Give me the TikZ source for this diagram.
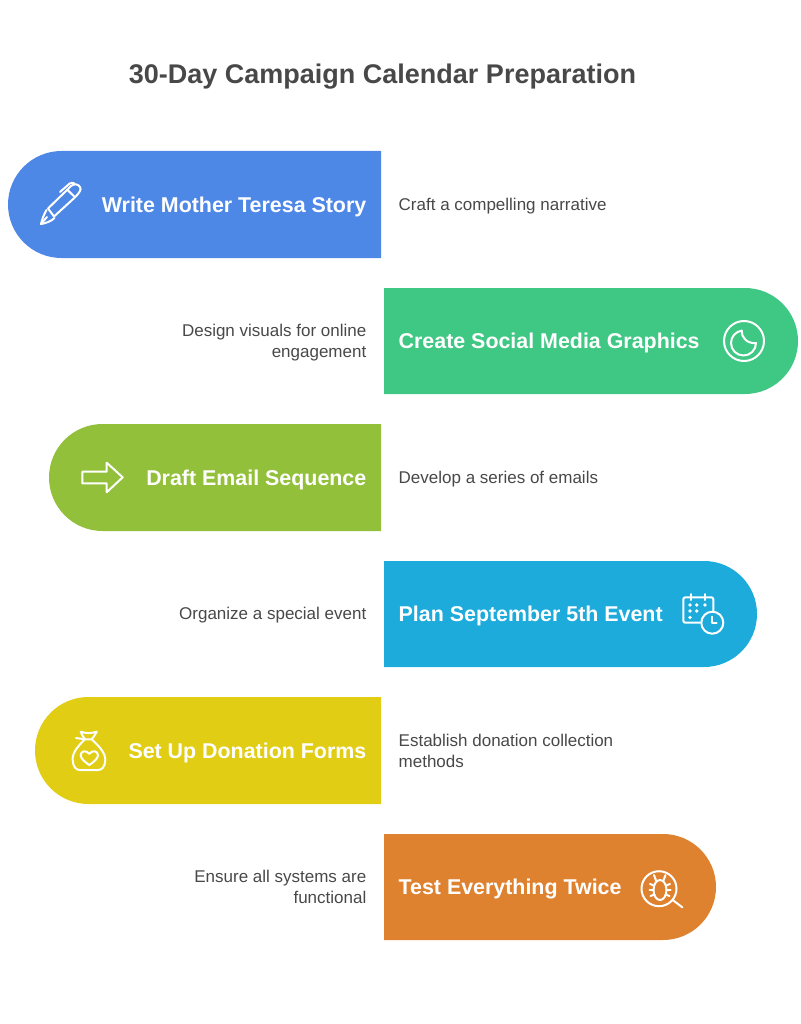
\documentclass[tikz,border=0pt]{standalone}
\usepackage{fontspec}
\setmainfont{Liberation Sans}
\definecolor{barblue}{HTML}{4E88E7}
\definecolor{bargreen}{HTML}{3FC784}
\definecolor{barolive}{HTML}{93C03B}
\definecolor{barcyan}{HTML}{1DABDC}
\definecolor{baryellow}{HTML}{E0CD14}
\definecolor{barorange}{HTML}{DF8230}
\definecolor{inkgrey}{HTML}{484848}
\tikzset{
  titletext/.style={text=inkgrey,inner sep=0pt,font=\fontsize{27}{32}\selectfont\bfseries},
  headtext/.style={text=white,inner sep=0pt,font=\fontsize{21.4}{26}\selectfont\bfseries},
  desctext/.style={text=inkgrey,inner sep=0pt,font=\fontsize{17}{21}\selectfont},
  iconline/.style={draw=white,line width=2pt,line join=round,line cap=round},
  icondot/.style={fill=white,draw=none},
}
\begin{document}
\begin{tikzpicture}[x=1pt,y=-1pt]
  \useasboundingbox (0,0) rectangle (800,1024);
  \node[titletext] (title) at (382.5,77) {30-Day Campaign Calendar Preparation};

  % bars
  \fill[barblue] (381,151) [rounded corners=53.5pt] -- (8,151) -- (8,258) [sharp corners] -- (381,258) -- cycle;
  \fill[bargreen] (384,288) [rounded corners=53pt] -- (798,288) -- (798,394) [sharp corners] -- (384,394) -- cycle;
  \fill[barolive] (381,424) [rounded corners=53.5pt] -- (49,424) -- (49,531) [sharp corners] -- (381,531) -- cycle;
  \fill[barcyan] (384,561) [rounded corners=53pt] -- (757,561) -- (757,667) [sharp corners] -- (384,667) -- cycle;
  \fill[baryellow] (381,697) [rounded corners=53.5pt] -- (35,697) -- (35,804) [sharp corners] -- (381,804) -- cycle;
  \fill[barorange] (384,834) [rounded corners=53pt] -- (716,834) -- (716,940) [sharp corners] -- (384,940) -- cycle;

  % headings
  \node[headtext,anchor=east] (storyhead) at (366.5,207) {Write Mother Teresa Story};
  \node[headtext,anchor=west] (graphicshead) at (398.5,343) {Create Social Media Graphics};
  \node[headtext,anchor=east] (emailhead) at (366.5,480) {Draft Email Sequence};
  \node[headtext,anchor=west] (eventhead) at (398.5,616) {Plan September 5th Event};
  \node[headtext,anchor=east] (formshead) at (366.5,753) {Set Up Donation Forms};
  \node[headtext,anchor=west] (testhead) at (398.5,889) {Test Everything Twice};

  % descriptions
  \node[desctext,anchor=west] (storydesc) at (398.5,206) {Craft a compelling narrative};
  \node[desctext,anchor=east,align=right] (graphicsdesc) at (366.5,342.5) {Design visuals for online\\engagement};
  \node[desctext,anchor=west] (emaildesc) at (398.5,479) {Develop a series of emails};
  \node[desctext,anchor=east] (eventdesc) at (366.5,615) {Organize a special event};
  \node[desctext,anchor=west,align=left] (formsdesc) at (398.5,751) {Establish donation collection\\methods};
  \node[desctext,anchor=east,align=right] (testdesc) at (366.5,887) {Ensure all systems are\\functional};

  % pen
  \draw[iconline] (67.3,189.7) -- (48,208.5) -- (54,216.5) -- (75,197.3) -- cycle;
  \draw[iconline] (67.3,189.7) -- (71,186) .. controls (75,183) and (78.5,184.5) .. (80,187) .. controls (81.5,189.5) and (80,192) .. (75,197.3);
  \draw[iconline] (60,192) -- (69.5,183.7) .. controls (71,182.5) and (73,182.5) .. (74.5,183.5);
  \draw[iconline] (46.5,210) .. controls (44,214) and (42,220) .. (41,224) .. controls (45,223.5) and (51,221.5) .. (54.5,218);
  \draw[iconline] (41,224) -- (47,217);

  % moon
  \draw[iconline] (744,341) circle[radius=20];
  \draw[iconline] (756,343) arc[start angle=0,end angle=262,radius=12.5] .. controls (741,337) and (747,344) .. (756,343) -- cycle;

  % arrow
  \draw[iconline] (82.3,471.7) -- (106.7,471.7) -- (106.7,462.7) -- (122.7,477.3) -- (106.7,492.3) -- (106.7,483.3) -- (82.3,483.3) -- cycle;

  % calendar
  \draw[iconline] (713.3,611) -- (713.3,600) [rounded corners=2pt] -- (713.3,597.3) -- (683.3,597.3) -- (683.3,622.7) [sharp corners] -- (700,622.7);
  \draw[iconline] (691,594) -- (691,600);
  \draw[iconline] (705,594) -- (705,600);
  \fill[icondot] (690,605) circle[radius=1.8];
  \fill[icondot] (696.7,605) circle[radius=1.8];
  \fill[icondot] (705,605) circle[radius=1.8];
  \fill[icondot] (690,611) circle[radius=1.8];
  \fill[icondot] (696.7,611) circle[radius=1.8];
  \fill[icondot] (690,617.5) circle[radius=1.8];
  \draw[iconline] (712.3,622.7) circle[radius=11];
  \draw[iconline] (712.3,616.7) -- (712.3,623.3) -- (716.7,623.3);

  % bag
  \draw[iconline] (85,739.3) .. controls (83,736) and (81,734) .. (80.7,731.7) .. controls (86,733.5) and (91,733.5) .. (96.7,731.7) .. controls (96,734) and (94,736) .. (91.7,739.3);
  \draw[iconline] (85,739.3) .. controls (78,746) and (72,753) .. (72.7,760) .. controls (73,767) and (76,770) .. (80,770) -- (98,770) .. controls (102,770) and (105,767) .. (105.3,760) .. controls (105.5,753) and (99,746) .. (91.7,739.3) -- cycle;
  \draw[iconline] (76,738) -- (85,739.3);
  \draw[iconline] (89.3,753.8) .. controls (86,749.5) and (80.5,751) .. (80.7,755.5) .. controls (81,759) and (85,762) .. (89.3,765) .. controls (93.5,762) and (97.7,759) .. (98,755.5) .. controls (98.2,751) and (92.5,749.5) .. (89.3,753.8) -- cycle;

  % bug
  \draw[iconline] (659,888.7) circle[radius=17.5];
  \draw[iconline] (672.7,900) -- (682.3,907.3);
  \draw[iconline] (660,890) circle[x radius=6.5,y radius=10];
  \draw[iconline] (654,875) -- (656,880.5);
  \draw[iconline] (665.5,875) -- (663.5,880.5);
  \draw[iconline] (650,884) -- (654,885.5);
  \draw[iconline] (649.5,890) -- (653.5,890);
  \draw[iconline] (650.5,896) -- (654.5,894.5);
  \draw[iconline] (670,884) -- (666,885.5);
  \draw[iconline] (670.5,890) -- (666.5,890);
  \draw[iconline] (669.5,896) -- (665.5,894.5);
\end{tikzpicture}
\end{document}
